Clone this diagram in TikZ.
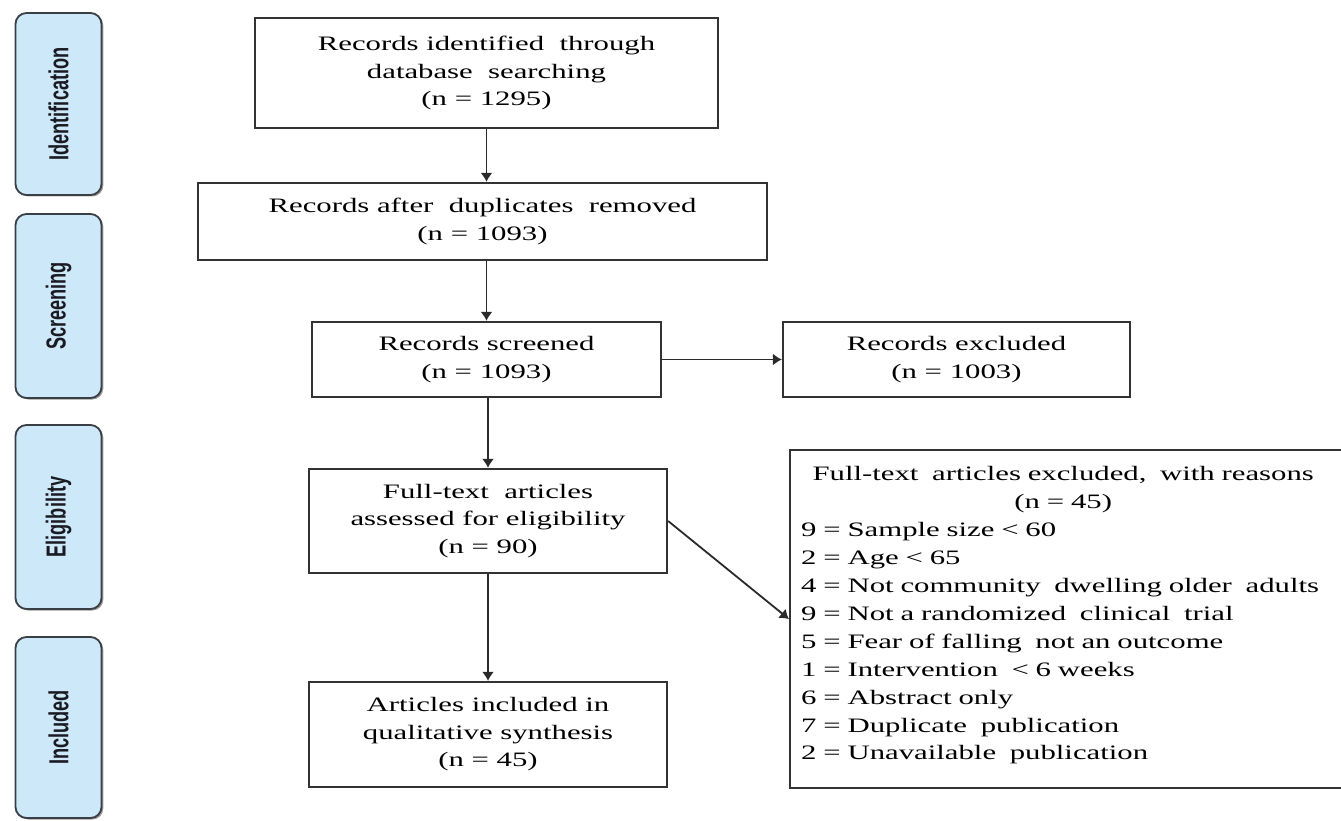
\documentclass[tikz,border=0pt]{standalone}
\usepackage{fontspec}
\setmainfont{Liberation Serif}[FakeStretch=1.5]
\newfontfamily\sidefont{Liberation Sans}[FakeStretch=0.66]
\usetikzlibrary{arrows.meta,shadows}
\definecolor{boxline}{HTML}{333333}
\definecolor{arrline}{HTML}{2A2A2A}
\definecolor{sidefill}{HTML}{CDE8F9}
\definecolor{sideline}{HTML}{3A3F45}
\definecolor{sidetext}{HTML}{1A1A22}
\newcommand\mainsize{\fontsize{20.5}{27.5}\selectfont}
\newcommand\exsize{\fontsize{20.5}{27.9}\selectfont}
\newcommand\sidesize{\sidefont\bfseries\fontsize{27.5}{27.5}\selectfont}
\newcommand\wsp{\ \ }
\begin{document}
\begin{tikzpicture}[x=1pt,y=-1pt,
  box/.style={draw=boxline, line width=2.2pt, fill=white, align=center, inner sep=0pt, font=\mainsize},
  side/.style={draw=sideline, line width=1.8pt, fill=sidefill, rounded corners=11pt, minimum width=86pt, inner sep=0pt,
    drop shadow={shadow xshift=1.8pt, shadow yshift=-1.5pt, fill=black!50, opacity=0.8}},
  sidelabel/.style={rotate=90, text=sidetext, font=\sidesize, inner sep=0pt},
  arr/.style={draw=arrline, line width=1.8pt, -{Latex[length=9pt,width=12pt]}}
]
\useasboundingbox (0,0) rectangle (1341,821);
\clip (0,0) rectangle (1341,821);

% side panels
\node[side, minimum height=182pt] (pid) at (58.5,104) {};
\node[sidelabel] (lid) at (pid.center) {Identification};
\node[side, minimum height=184pt] (psc) at (58.5,306) {};
\node[sidelabel] (lsc) at (psc.center) {Screening};
\node[side, minimum height=184pt] (pel) at (58.5,517) {};
\node[sidelabel] (lel) at (pel.center) {Eligibility};
\node[side, minimum height=181pt] (pin) at (58.5,727.5) {};
\node[sidelabel] (lin) at (pin.center) {Included};

% main boxes
\node[box, minimum width=463pt, minimum height=110pt] (b1) at (486.5,73)
  {Records identified\wsp through\\database\wsp searching\\(n = 1295)};
\node[box, minimum width=569pt, minimum height=77pt] (b2) at (482.5,221.5)
  {Records after\wsp duplicates\wsp removed\\(n = 1093)};
\node[box, minimum width=349pt, minimum height=75pt] (b3) at (486.5,359.5)
  {Records screened\\(n = 1093)};
\node[box, minimum width=347pt, minimum height=75pt] (rex) at (956.5,359.5)
  {Records excluded\\(n = 1003)};
\node[box, minimum width=358pt, minimum height=104pt] (b4) at (488,521)
  {Full-text\wsp articles\\assessed for eligibility\\(n = 90)};
\node[box, minimum width=358pt, minimum height=105pt] (b5) at (488,734.5)
  {Articles included in\\qualitative synthesis\\(n = 45)};

% exclusion box
\node[box, anchor=north west, minimum width=600pt, minimum height=338pt] (ex) at (789,449) {};
\node[anchor=west, inner sep=0pt, text width=560pt, align=left, font=\exsize] (extext) at (801,615.5)
  {\makebox[524pt]{Full-text\wsp articles excluded,\wsp with reasons}\\
   \makebox[524pt]{(n = 45)}\\
   9 = Sample size < 60\\
   2 = Age < 65\\
   4 = Not community\wsp dwelling older\wsp adults\\
   9 = Not a randomized\wsp clinical\wsp trial\\
   5 = Fear of falling\wsp not an outcome\\
   1 = Intervention\wsp < 6 weeks\\
   6 = Abstract only\\
   7 = Duplicate\wsp publication\\
   2 = Unavailable\wsp publication};

% connectors
\draw[arr] (b1.south) -- (b1.south |- b2.north);
\draw[arr] (b2.south -| b1.south) -- (b1.south |- b3.north);
\draw[arr] (b3.east) -- (rex.west);
\draw[arr] (b4.north |- b3.south) -- (b4.north);
\draw[arr] (b4.south) -- (b5.north);
\draw[arr] (b4.east) -- (ex.west);
\end{tikzpicture}
\end{document}
